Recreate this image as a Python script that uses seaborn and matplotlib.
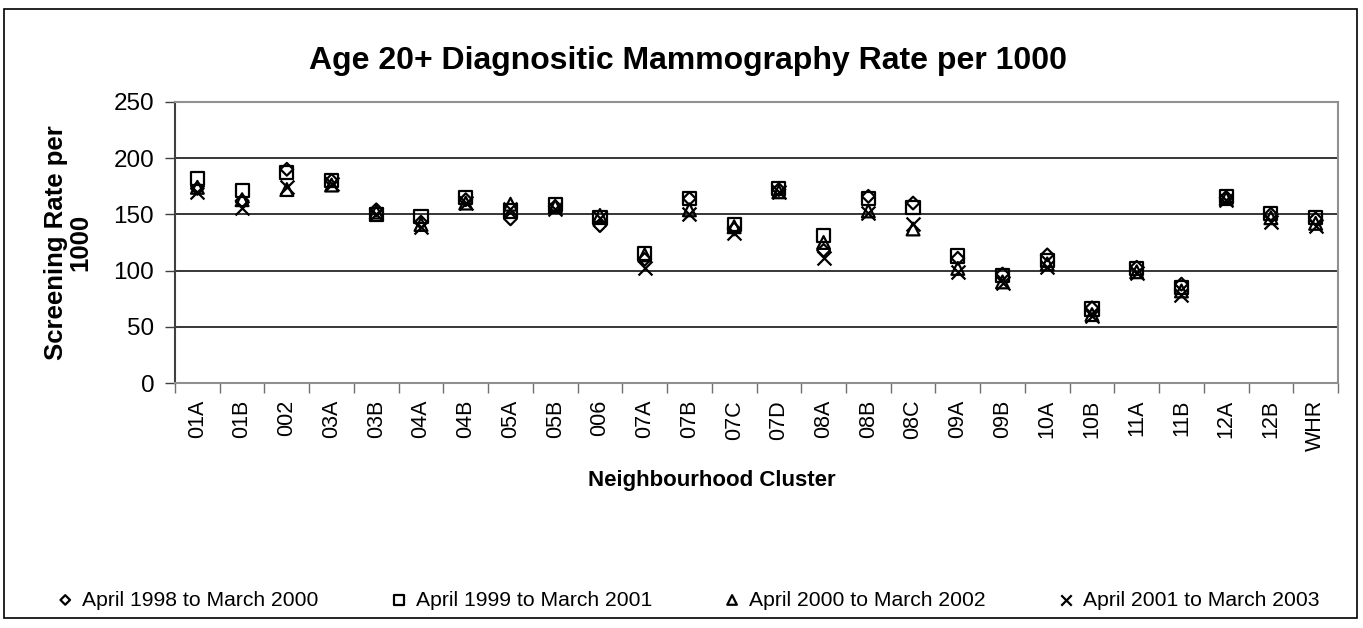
import matplotlib
matplotlib.use("Agg")
import matplotlib.pyplot as plt
import seaborn as sns
import pandas as pd
from matplotlib.patches import Rectangle
from matplotlib.ticker import FixedLocator

categories = ["01A", "01B", "002", "03A", "03B", "04A", "04B", "05A", "05B", "006",
              "07A", "07B", "07C", "07D", "08A", "08B", "08C", "09A", "09B", "10A",
              "10B", "11A", "11B", "12A", "12B", "WHR"]
rate_1998_2000 = [173, 162, 190, 180, 154, 143, 163, 146, 157, 140, 110, 164, 137, 172,
                  118, 166, 160, 111, 97, 114, 67, 103, 88, 165, 150, 146]
rate_1999_2001 = [182, 171, 187, 180, 150, 148, 165, 153, 159, 147, 115, 164, 141, 173,
                  131, 164, 156, 113, 96, 109, 66, 102, 85, 166, 151, 147]
rate_2000_2002 = [174, 163, 172, 176, 152, 141, 160, 159, 157, 149, 114, 154, 139, 170,
                  125, 153, 137, 102, 90, 106, 61, 99, 82, 164, 147, 142]
rate_2001_2003 = [170, 156, 174, 177, 150, 139, 160, 155, 155, 147, 102, 150, 133, 170,
                  111, 151, 141, 99, 89, 103, 60, 98, 78, 163, 143, 140]
series_labels = ["April 1998 to March 2000", "April 1999 to March 2001",
                 "April 2000 to March 2002", "April 2001 to March 2003"]
y_ticks = [0, 50, 100, 150, 200, 250]

sns.set_theme(style="white")
plt.rcParams["font.family"] = ["Liberation Sans", "DejaVu Sans"]
plt.rcParams["text.color"] = "black"
plt.rcParams["axes.labelcolor"] = "black"
plt.rcParams["xtick.color"] = "black"
plt.rcParams["ytick.color"] = "black"

W, H = 1363, 628
fig = plt.figure(figsize=(W / 100, H / 100), dpi=100)
ax = fig.add_axes([175 / W, 1 - 383.3 / H, (1338 - 175) / W, (383.3 - 101.7) / H])

series_values = [rate_1998_2000, rate_1999_2001, rate_2000_2002, rate_2001_2003]
marker_styles = [("D", 42), ("s", 90), ("^", 85), ("x", 100)]

for label, vals, (m, s) in zip(series_labels, series_values, marker_styles):
    df = pd.DataFrame({"cluster": categories, "rate": vals})
    if m == "x":
        sns.scatterplot(data=df, x="cluster", y="rate", marker=m, s=s, color="black",
                        linewidth=1.6, ax=ax, label=label, zorder=3)
    else:
        sns.scatterplot(data=df, x="cluster", y="rate", marker=m, s=s, facecolor="none",
                        edgecolor="black", linewidth=1.6, ax=ax, label=label, zorder=3)

ax.set_xlim(-0.5, len(categories) - 0.5)
ax.set_ylim(0, 250)
ax.set_yticks(y_ticks)
ax.set_yticklabels([str(t) for t in y_ticks], fontsize=17.5)
ax.set_xticks(range(len(categories)))
ax.set_xticklabels(categories, rotation=90, fontsize=15.5)
ax.xaxis.set_minor_locator(FixedLocator([i - 0.5 for i in range(len(categories) + 1)]))
ax.tick_params(axis="x", which="major", length=0, pad=12)
ax.tick_params(axis="x", which="minor", length=7, width=1, color="#707070", direction="out",
               bottom=True)
ax.tick_params(axis="y", which="major", length=7, width=1, color="#404040", direction="out",
               left=True, pad=8)

for v in [50, 100, 150, 200]:
    ax.axhline(v, color="black", linewidth=1.1, zorder=1)

for side in ["top", "right", "bottom"]:
    ax.spines[side].set_color("#909090")
    ax.spines[side].set_linewidth(1.5)
ax.spines["left"].set_color("#404040")
ax.spines["left"].set_linewidth(1.5)

ax.set_xlabel("Neighbourhood Cluster", fontsize=16, fontweight="bold")
ax.xaxis.set_label_coords((712 - 175) / (1338 - 175), 1 - (470 - 101.7) / (383.3 - 101.7))
ax.set_ylabel("Screening Rate per\n1000", fontsize=18.5, fontweight="bold", linespacing=1.0)
ax.yaxis.set_label_coords((92 - 175) / (1338 - 175), 0.5)

fig.text(688 / W, 1 - 69 / H, "Age 20+ Diagnositic Mammography Rate per 1000",
         ha="center", va="baseline", fontsize=23, fontweight="bold")

handles, labels = ax.get_legend_handles_labels()
ax.get_legend().remove()
fig.legend(handles, labels, loc="center", bbox_to_anchor=(688 / W, 1 - 600 / H), ncol=4,
           frameon=False, fontsize=15.2, handlelength=0.8, handletextpad=0.4,
           columnspacing=3.4, markerscale=0.75, borderpad=0)

fig.patches.append(Rectangle((4 / W, 1 - 618 / H), (1357 - 4) / W, (618 - 9) / H,
                             transform=fig.transFigure, fill=False, edgecolor="black",
                             linewidth=1.2))

fig.savefig("out.png", dpi=100)
